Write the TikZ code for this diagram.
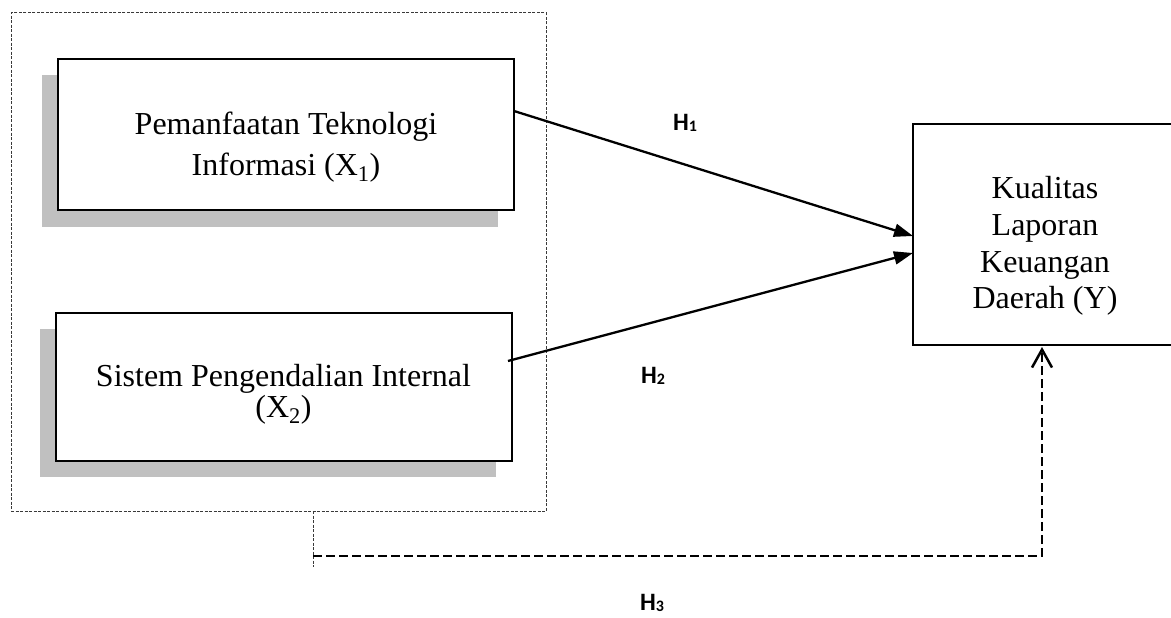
\documentclass[tikz,border=0pt]{standalone}
\usepackage{fontspec}
\setmainfont{Liberation Serif}
\newfontfamily\hfont{Carlito}
\usetikzlibrary{arrows.meta}
\definecolor{shadowgray}{HTML}{C0C0C0}
\definecolor{dotgray}{HTML}{3A3A3A}
\begin{document}
\begin{tikzpicture}[x=1pt,y=-1pt,
  box/.style={draw=black, line width=1.8pt, fill=white, inner sep=0pt, outer sep=0pt},
  shadowbox/.style={fill=shadowgray, draw=none, inner sep=0pt, outer sep=0pt},
  groupbox/.style={draw=dotgray, line width=1pt, dash pattern=on 3pt off 1.5pt, inner sep=0pt, outer sep=0pt},
  dotline/.style={draw=dotgray, line width=1pt, dash pattern=on 3pt off 1.5pt},
  txt/.style={align=center, inner sep=0pt},
  hlabel/.style={font=\hfont\bfseries\fontsize{25}{25}\selectfont, inner sep=0pt},
  arrowline/.style={line width=2.3pt, -{Triangle[length=19pt,width=13pt]}},
  dashline/.style={line width=2.8pt, dash pattern=on 9pt off 4pt},
]
\useasboundingbox (0,0) rectangle (1171,618);
% group box
\node[groupbox, minimum width=535pt, minimum height=498pt] (grp) at (278.5,262) {};
% shadows
\node[shadowbox, minimum width=456pt, minimum height=152pt] (sh1) at (270,151) {};
\node[shadowbox, minimum width=456pt, minimum height=148pt] (sh2) at (268,403) {};
% boxes
\node[box, minimum width=456pt, minimum height=151pt] (box1) at (286,134.5) {};
\node[box, minimum width=456pt, minimum height=148pt] (box2) at (284,387) {};
\node[box, line width=1.5pt, minimum width=264pt, minimum height=221pt] (boxY) at (1045,234.5) {};
% texts
\node[txt, font=\fontsize{32}{41}\selectfont] (t1) at (286,147) {Pemanfaatan Teknologi\\Informasi (X\textsubscript{1})};
\node[txt, font=\fontsize{32}{31}\selectfont] (t2) at (283.5,394) {Sistem Pengendalian Internal\\(X\textsubscript{2})};
\node[txt, font=\fontsize{32}{36.7}\selectfont] (tY) at (1045,246) {Kualitas\\Laporan\\Keuangan\\Daerah (Y)};
% arrows
\draw[arrowline] ([yshift=23.5pt]box1.east) -- ([yshift=-1.5pt]boxY.west);
\draw[arrowline] ([xshift=-4pt,yshift=26pt]box2.east) -- ([yshift=-18.5pt]boxY.west);
% H3 path
\coordinate (g1) at ([xshift=34.5pt]grp.south);
\coordinate (g2) at ([yshift=-56pt]g1);
\coordinate (g3) at ([yshift=-45pt]g1);
\draw[dotline] (g1) -- (g2);
\draw[dashline, -{Straight Barb[length=18pt,width=20pt,line width=2.5pt]}] (g3) -| ([xshift=-3pt,yshift=-2pt]boxY.south);
% labels
\node[hlabel] (h1) at (685,123) {H\raisebox{-1pt}{\fontsize{16}{16}\selectfont 1}};
\node[hlabel] (h2) at (653,376) {H\raisebox{-1pt}{\fontsize{16}{16}\selectfont 2}};
\node[hlabel] (h3) at (652,603) {H\raisebox{-1pt}{\fontsize{16}{16}\selectfont 3}};
\end{tikzpicture}
\end{document}
